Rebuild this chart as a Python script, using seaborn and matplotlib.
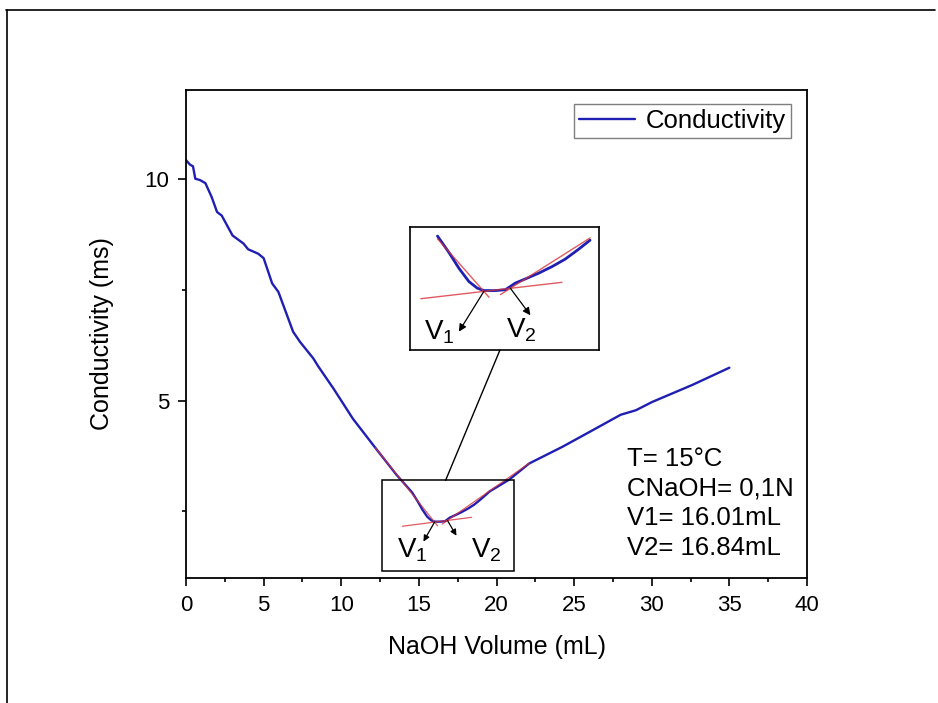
import numpy as np
import pandas as pd
import matplotlib
matplotlib.use("Agg")
import matplotlib.pyplot as plt
from matplotlib.patches import Rectangle, ConnectionPatch
from matplotlib.lines import Line2D
import seaborn as sns

# Conductometric titration: NaOH volume added (mL) vs conductivity (ms)
volume = [0.0, 0.25, 0.45, 0.6, 0.9, 1.25, 1.65, 2.0, 2.3, 3.0, 3.7, 4.0,
          4.65, 5.0, 5.55, 5.95, 6.9, 7.35, 8.2, 8.5, 9.5, 10.75, 12.05,
          13.55, 14.56, 14.92, 15.23, 15.54, 15.80, 16.01, 16.37, 16.68,
          16.84, 16.99, 17.30, 17.72, 18.14, 18.55, 18.97, 19.33, 19.55,
          20.83, 22.1, 24.26, 25.98, 28.0, 28.97, 30.04, 32.6, 35.0]
conductivity = [10.42, 10.32, 10.28, 10.0, 9.97, 9.90, 9.59, 9.25, 9.17,
                8.72, 8.54, 8.41, 8.31, 8.21, 7.64, 7.45, 6.55, 6.32, 5.95,
                5.78, 5.27, 4.59, 4.0, 3.33, 2.93, 2.73, 2.54, 2.38, 2.30,
                2.27, 2.27, 2.28, 2.32, 2.36, 2.41, 2.48, 2.56, 2.65, 2.77,
                2.88, 2.95, 3.22, 3.58, 3.96, 4.29, 4.68, 4.78, 4.97, 5.35,
                5.74]

# Equivalence points and the three linear fits that define them
v1 = 16.01
v2 = 16.84
base_at_v1 = 2.26
base_slope = 0.045
left_slope = -0.44
right_slope = 0.245

info_lines = ["T= 15°C", "CNaOH= 0,1N", "V1= 16.01mL", "V2= 16.84mL"]

sns.set_style("ticks")
plt.rcParams["font.family"] = ["Liberation Sans", "DejaVu Sans"]
plt.rcParams["text.color"] = "black"
plt.rcParams["axes.labelcolor"] = "black"
plt.rcParams["xtick.color"] = "black"
plt.rcParams["ytick.color"] = "black"
plt.rcParams["mathtext.fontset"] = "custom"
plt.rcParams["mathtext.rm"] = "Liberation Sans"
plt.rcParams["mathtext.it"] = "Liberation Sans"

W, H = 938, 703
fig = plt.figure(figsize=(W / 100, H / 100), dpi=100)


def fx(px):
    return px / W


def fy(py):
    return 1 - py / H


blue = "#1f1fb4"
red = "#d8323a"

ax = fig.add_axes([fx(186), fy(578), (807 - 186) / W, (578 - 90) / H])
df = pd.DataFrame({"volume": volume, "conductivity": conductivity})
sns.lineplot(data=df, x="volume", y="conductivity", ax=ax, color=blue,
             lw=1.7, sort=False, estimator=None, label="Conductivity")


def baseline(x):
    return base_at_v1 + base_slope * (np.asarray(x) - v1)


y_v1 = float(baseline(v1))
y_v2 = float(baseline(v2))


def left_fit(x):
    return y_v1 + left_slope * (np.asarray(x) - v1)


def right_fit(x):
    return y_v2 + right_slope * (np.asarray(x) - v2)


def draw_fits(a, left_span, base_span, right_span, lw):
    for f, span in ((left_fit, left_span), (baseline, base_span),
                    (right_fit, right_span)):
        xs = np.array(span)
        a.plot(xs, f(xs), color=red, lw=lw, alpha=0.8, zorder=3)


draw_fits(ax, (12.2, 16.2), (13.94, 18.4), (16.5, 22.1), 0.9)

ax.set_xlim(0, 40)
ax.set_ylim(1, 12)
ax.set_xticks(np.arange(0, 41, 5))
ax.set_xticks(np.arange(2.5, 40, 5), minor=True)
ax.set_yticks([5, 10])
ax.set_yticks([2.5, 7.5], minor=True)
ax.tick_params(which="major", direction="out", length=6, width=1.2,
               labelsize=16, color="k", labelcolor="k", pad=6)
ax.tick_params(which="minor", direction="out", length=3.2, width=1.2,
               color="k")
for s in ax.spines.values():
    s.set_visible(True)
    s.set_linewidth(1.3)
    s.set_color("k")
ax.set_xlabel("NaOH Volume (mL)", fontsize=18, labelpad=14)
ax.set_ylabel("Conductivity (ms)", fontsize=18, labelpad=22)

leg = ax.legend(loc="upper right", bbox_to_anchor=(fx(791), fy(104)),
                bbox_transform=fig.transFigure, frameon=True, fancybox=False,
                edgecolor="#7f7f7f", framealpha=1, fontsize=18.5,
                handlelength=2.2, borderpad=0.2, borderaxespad=0,
                handletextpad=0.4)
leg.get_frame().set_linewidth(1.0)

# highlighted region around the two equivalence points
ax.add_patch(Rectangle((12.62, 1.15), 21.11 - 12.62, 3.2 - 1.15,
                       fill=False, ec="k", lw=1.1, zorder=4))


def arrow(a, x, y, dx, dy, scale):
    a.annotate("", xy=(x, y), xytext=(dx, dy), textcoords="offset points",
               arrowprops=dict(arrowstyle="<|-", color="k", lw=0.9,
                               mutation_scale=scale, shrinkA=0, shrinkB=0),
               zorder=5)


arrow(ax, v1, y_v1, -8, -14, 9)
arrow(ax, v2, y_v2, 6.5, -11, 9)

# magnified view of the minimum
ins = fig.add_axes([fx(410), fy(350), 189 / W, 123 / H])
zoom_df = df[(df["volume"] >= 14.5) & (df["volume"] <= 19.4)]
sns.lineplot(data=zoom_df, x="volume", y="conductivity", ax=ins, color=blue,
             lw=2.0, sort=False, estimator=None, legend=False)
draw_fits(ins, (14.56, 16.17), (14.04, 18.45), (16.53, 19.33), 1.0)
ins.set_xlim(13.7, 19.61)
ins.set_ylim(1.55, 3.04)
ins.set_xticks([])
ins.set_yticks([])
ins.set_xlabel("")
ins.set_ylabel("")
for s in ins.spines.values():
    s.set_visible(True)
    s.set_linewidth(1.2)
    s.set_color("k")
arrow(ins, v1, y_v1, -18, -29, 11)
arrow(ins, v2, y_v2, 14.4, -19.4, 11)

con = ConnectionPatch(xyA=(16.72, 3.2), coordsA=ax.transData,
                      xyB=(0.476, 0.0), coordsB=ins.transAxes,
                      color="k", lw=1.0)
fig.add_artist(con)

# V1 / V2 labels
for txt, px, py in (("V$_1$", 397, 558), ("V$_2$", 471, 558),
                    ("V$_1$", 424, 340), ("V$_2$", 506, 338)):
    fig.text(fx(px), fy(py), txt, fontsize=20, ha="left", va="baseline")

# experimental conditions
for i, line in enumerate(info_lines):
    fig.text(fx(627), fy(466 + i * 29.7), line, fontsize=18.5, ha="left",
             va="baseline")

# page border
fig.add_artist(Line2D([fx(6), fx(935)], [fy(10), fy(10)], color="k", lw=1.2,
                      transform=fig.transFigure))
fig.add_artist(Line2D([fx(7), fx(7)], [fy(10), 0], color="k", lw=1.2,
                      transform=fig.transFigure))

fig.savefig("out.png", dpi=100, facecolor="white")
